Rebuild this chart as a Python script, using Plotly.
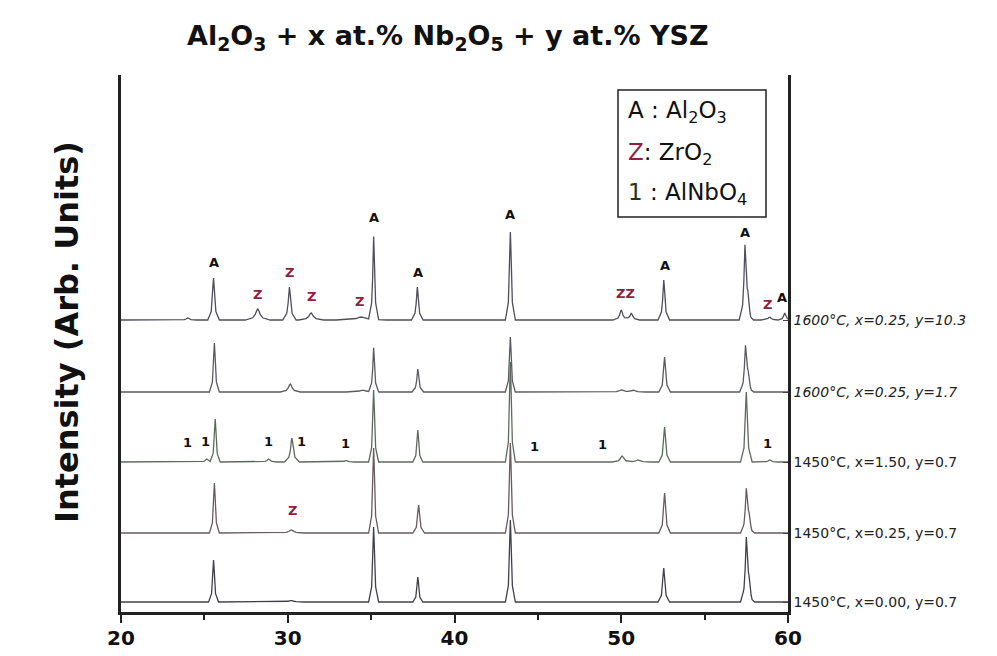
import numpy as np
import plotly.graph_objects as go

# ---------------- data ----------------
PATTERN_NAMES = [
    "<i>1600°C, x=0.25, y=10.3</i>",
    "<i>1600°C, x=0.25, y=1.7</i>",
    "1450°C, x=1.50, y=0.7",
    "1450°C, x=0.25, y=0.7",
    "1450°C, x=0.00, y=0.7",
]
OFFSETS = [292, 220, 150, 79, 10]

# peaks for each pattern: 2theta, height, half-width
P1_POS = [24.0, 25.55, 28.2, 30.1, 31.4, 34.4, 35.15, 37.77, 43.35, 50.0, 50.6, 52.55, 57.42, 57.58, 58.9, 59.8]
P1_HGT = [2, 42, 11, 33, 7, 3, 83, 33, 88, 10, 7, 40, 72, 18, 3, 7]
P1_WID = [0.1, 0.07, 0.15, 0.08, 0.15, 0.3, 0.06, 0.07, 0.06, 0.1, 0.1, 0.07, 0.07, 0.07, 0.1, 0.08]

P2_POS = [25.6, 30.15, 34.5, 35.15, 37.8, 43.35, 50.0, 50.7, 52.6, 57.45, 57.6]
P2_HGT = [49, 8, 2, 44, 23, 55, 2, 2, 35, 44, 14]
P2_WID = [0.06, 0.12, 0.2, 0.06, 0.07, 0.06, 0.15, 0.15, 0.07, 0.07, 0.07]

P3_POS = [25.15, 25.65, 28.85, 30.25, 33.5, 35.15, 37.8, 43.35, 50.05, 51.0, 52.6, 57.5, 58.9]
P3_HGT = [3, 43, 3, 24, 1.5, 72, 32, 100, 6, 2, 35, 70, 2]
P3_WID = [0.1, 0.06, 0.1, 0.09, 0.1, 0.06, 0.06, 0.06, 0.12, 0.15, 0.07, 0.07, 0.1]

P4_POS = [25.6, 30.2, 35.15, 37.85, 43.35, 52.6, 57.5, 57.65]
P4_HGT = [50, 3, 85, 28, 90, 40, 42, 14]
P4_WID = [0.06, 0.15, 0.06, 0.07, 0.06, 0.07, 0.07, 0.07]

P5_POS = [25.55, 30.2, 35.15, 37.8, 43.35, 52.55, 57.5, 57.65]
P5_HGT = [42, 1.5, 75, 25, 82, 34, 62, 16]
P5_WID = [0.06, 0.15, 0.06, 0.06, 0.06, 0.07, 0.07, 0.07]

LINE_COLORS = ["#4e4e5c", "#5a5a60", "#5f6a5f", "#6a5a60", "#40404c"]

# phase labels over peaks
LABEL_TEXT = ["A", "Z", "Z", "Z", "Z", "A", "A", "A", "ZZ", "A", "A", "Z", "A",
              "1", "1", "1", "1", "1", "1", "1", "1", "Z"]
LABEL_X = [25.55, 28.2, 30.1, 31.4, 34.3, 35.15, 37.8, 43.3, 50.25, 52.6, 57.4, 58.8, 59.65,
           23.96, 25.06, 28.84, 30.84, 33.45, 44.8, 48.9, 58.8, 30.28]
LABEL_Y = [350, 318, 340, 316, 311, 395, 340, 398, 319, 347, 380, 308, 315,
           170, 171, 171, 171, 169, 166, 168, 169, 102]

X_TICKS = [20, 30, 40, 50, 60]

# profile template (offsets in units of half-width, relative heights)
PROF_DX = [-5, -2, -1, -0.4, 0, 0.4, 1, 2, 5]
PROF_FR = [0, 0.2, 0.5, 0.86, 1, 0.86, 0.5, 0.2, 0]


def build(pos, hgt, wid, off):
    # vertices: ends of the range plus the template points of every peak
    xs = {20.0, 60.0}
    for c, w in zip(pos, wid):
        for dx in PROF_DX:
            xs.add(round(c + dx * w, 4))
    xs = np.array(sorted(x for x in xs if 20.0 <= x <= 60.0))
    ys = np.full(xs.shape, float(off))
    for c, h, w in zip(pos, hgt, wid):
        ys += h * np.interp((xs - c) / w, PROF_DX, PROF_FR, left=0.0, right=0.0)
    return xs, ys


fig = go.Figure()
series = [(P1_POS, P1_HGT, P1_WID), (P2_POS, P2_HGT, P2_WID), (P3_POS, P3_HGT, P3_WID),
          (P4_POS, P4_HGT, P4_WID), (P5_POS, P5_HGT, P5_WID)]
for (p, h, w), off, col in zip(series, OFFSETS, LINE_COLORS):
    xs, ys = build(p, h, w, off)
    fig.add_trace(go.Scatter(x=xs, y=ys, mode="lines",
                             line=dict(color=col, width=1.3), showlegend=False,
                             hoverinfo="skip"))

FONT = "DejaVu Sans, Arial, sans-serif"
for t, x, y in zip(LABEL_TEXT, LABEL_X, LABEL_Y):
    col = "#8e1f3f" if t.startswith("Z") else "#111"
    fig.add_annotation(x=x, y=y, text="<b>%s</b>" % t, showarrow=False,
                       font=dict(family=FONT, size=13, color=col),
                       xanchor="center", yanchor="middle")

# screen geometry of the plot area (page has an 8px body margin)
PAGE = 8
SL, SR, ST, SB = 121, 788, 75, 612
W, H = 997, 656
pw, ph = SR - SL, SB - ST


def px(x):
    return (x - SL) / pw


def py(y):
    return (SB - y) / ph


# title
fig.add_annotation(xref="paper", yref="paper", x=px(448), y=py(38),
                   text="<b>Al<sub>2</sub>O<sub>3</sub> + x at.% Nb<sub>2</sub>O<sub>5</sub> + y at.% YSZ</b>",
                   showarrow=False, xanchor="center", yanchor="middle",
                   font=dict(family=FONT, size=27, color="#111"))
# y title
fig.add_annotation(xref="paper", yref="paper", x=px(67), y=py(332),
                   text="<b>Intensity (Arb. Units)</b>", textangle=-90,
                   showarrow=False, xanchor="center", yanchor="middle",
                   font=dict(family=FONT, size=32, color="#111"))

# legend box
fig.add_shape(type="rect", xref="paper", yref="paper",
              x0=px(618), x1=px(766), y0=py(217), y1=py(90),
              line=dict(color="#222", width=1.5), fillcolor="white")
leg = [("A : Al<sub>2</sub>O<sub>3</sub>", 112),
       ("<span style='color:#8e1f3f'>Z</span>: ZrO<sub>2</sub>", 154),
       ("<span style='color:#243318'>1</span> : AlNbO<sub>4</sub>", 194)]
for txt, yy in leg:
    fig.add_annotation(xref="paper", yref="paper", x=px(626), y=py(yy),
                       text=txt, showarrow=False, xanchor="left", yanchor="middle",
                       font=dict(family=FONT, size=23, color="#111"))

ML, MT = SL - PAGE, ST - PAGE
fig.update_layout(
    width=W, height=H,
    margin=dict(l=ML, r=W - ML - pw, t=MT, b=H - MT - ph),
    paper_bgcolor="white", plot_bgcolor="white",
    xaxis=dict(range=[20, 60], showgrid=False, zeroline=False,
               showline=True, linecolor="#222", linewidth=2.5,
               ticks="outside", ticklen=8, tickwidth=2, tickcolor="#222",
               tickvals=X_TICKS, ticktext=["<b>%d</b>" % v for v in X_TICKS],
               tickfont=dict(family=FONT, size=20, color="#111"),
               ticklabelstandoff=-2,
               minor=dict(dtick=5, tick0=20, ticks="outside", ticklen=5,
                          tickwidth=2, tickcolor="#222")),
    yaxis=dict(range=[0, ph], showgrid=False, zeroline=False,
               showline=True, mirror=True, linecolor="#222", linewidth=2.5,
               side="right", ticks="inside", ticklen=5, tickwidth=1, tickcolor="#444",
               tickvals=OFFSETS, ticktext=PATTERN_NAMES,
               tickfont=dict(family=FONT, size=14, color="#222")),
)

fig.write_html("out.html")
